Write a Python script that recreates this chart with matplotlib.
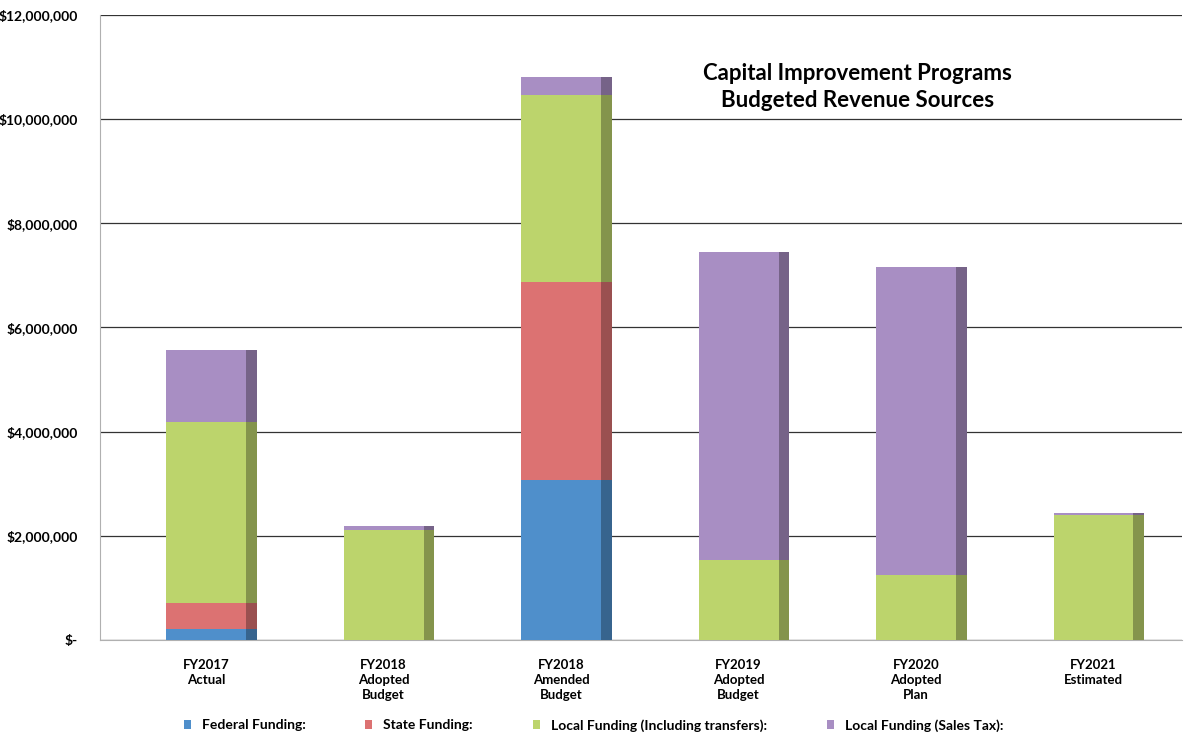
import matplotlib.pyplot as plt
import matplotlib.ticker as mticker
from matplotlib.colors import to_rgb
import numpy as np

# Values (dollars)
categories = ["FY2017\nActual", "FY2018\nAdopted\nBudget", "FY2018\nAmended\nBudget",
              "FY2019\nAdopted\nBudget", "FY2020\nAdopted\nPlan", "FY2021\nEstimated"]
federal = [210000, 0, 3070000, 0, 0, 0]
state = [500000, 0, 3800000, 0, 0, 0]
local_transfers = [3470000, 2100000, 3590000, 1540000, 1250000, 2400000]
local_sales_tax = [1380000, 80000, 350000, 5900000, 5900000, 30000]

series = [
    ("Federal Funding:", federal, "#4f8fcb"),
    ("State Funding:", state, "#dc7272"),
    ("Local Funding (Including transfers):", local_transfers, "#bcd46c"),
    ("Local Funding (Sales Tax):", local_sales_tax, "#a88ec3"),
]

plt.rcParams['font.family'] = ['Lato', 'DejaVu Sans']


def darker(c, f=0.7):
    r, g, b = to_rgb(c)
    return (r * f, g * f, b * f)


def main():
    fig = plt.figure(figsize=(11.87, 7.44), dpi=100)
    ax = fig.add_axes([0.084, 0.140, 0.912, 0.840])

    x = np.arange(len(categories))
    width = 0.45
    depth = 0.06
    bottom = np.zeros(len(categories))
    handles = []
    for label, vals, color in series:
        vals = np.array(vals, dtype=float)
        h = ax.bar(x, vals, width=width, bottom=bottom, color=color, label=label, zorder=3)
        # darker side face to mimic the 3D look
        ax.bar(x + width / 2, vals, width=depth, bottom=bottom, align='edge',
               color=darker(color), zorder=3)
        handles.append(h)
        bottom += vals

    ax.set_xlim(-0.6, 5.5)
    ax.set_ylim(0, 12000000)
    ax.yaxis.set_major_locator(mticker.MultipleLocator(2000000))
    ax.yaxis.set_major_formatter(mticker.FuncFormatter(
        lambda v, p: "$-" if v == 0 else "${:,.0f}".format(v)))
    ax.set_xticks(x)
    ax.set_xticklabels(categories, fontsize=9.5, fontweight='bold', linespacing=1.3)
    for t in ax.get_yticklabels():
        t.set_fontsize(10)
        t.set_fontweight('bold')
    ax.tick_params(axis='y', length=0, pad=16)
    ax.tick_params(axis='x', length=0, pad=14)

    ax.grid(axis='y', color='#333333', linewidth=0.9, zorder=0)
    for s in ['top', 'right']:
        ax.spines[s].set_visible(False)
    ax.spines['left'].set_color('#b0b0b0')
    ax.spines['bottom'].set_color('#b0b0b0')

    ax.text(0.70, 0.885, "Capital Improvement Programs\nBudgeted Revenue Sources",
            transform=ax.transAxes, ha='center', va='center', fontsize=16,
            fontweight='bold', linespacing=1.35)

    fig.legend(handles=handles, loc='lower center', ncol=4, bbox_to_anchor=(0.50, 0.0),
               frameon=False, handlelength=0.5, handleheight=0.7,
               columnspacing=4.3, prop={'size': 10, 'weight': 'bold'})

    fig.savefig("out.png", dpi=100)


if __name__ == "__main__":
    main()
